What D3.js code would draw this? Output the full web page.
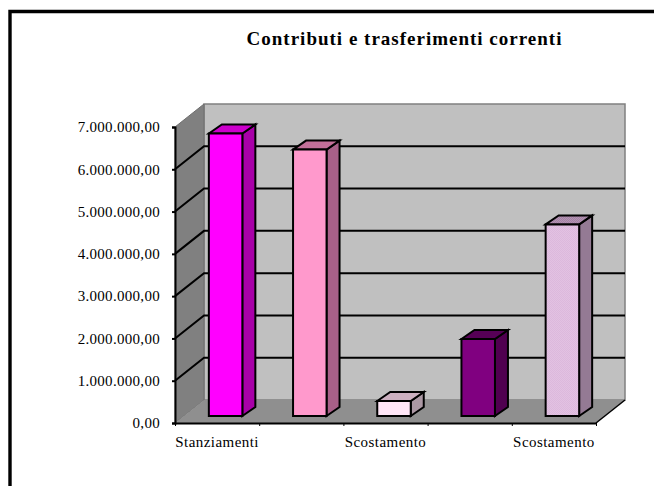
<!DOCTYPE html>
<html>
<head>
<meta charset="utf-8">
<script src="https://cdn.jsdelivr.net/npm/d3@7"></script>
<style>
  html, body { margin: 0; padding: 0; background: #fff; }
  text { font-family: "Liberation Serif", serif; fill: #000; }
</style>
</head>
<body>
<div id="chart"></div>
<script>
var title = "Contributi e trasferimenti correnti";

// only every other category label is shown in the picture
var categories = ["Stanziamenti", "", "Scostamento", "", "Scostamento"];
var values = [6680000, 6300000, 355000, 1820000, 4530000];
var yTicks = [0, 1000000, 2000000, 3000000, 4000000, 5000000, 6000000, 7000000];

var frontColors = ["#ff00ff", "#ff99cc", "#ffe6f7", "#800080", "url(#weave)"];
var topColors = ["#cc00cc", "#c27099", "#ccb0c0", "#560056", "url(#weaveTop)"];
var sideColors = ["#a800a8", "#a86088", "#ac98a4", "#500050", "#947a94"];

var width = 654, height = 486;

// plot box on the front plane + how far the 3d walls go back
var plot = { left: 175, right: 596, top: 127, bottom: 423 };
var depth = { x: 29, y: -23 };
var barInset = { x: 8.5, y: -7 };
var barDepth = { x: 13, y: -9 };

var svg = d3.select("#chart")
    .append("svg")
    .attr("width", width)
    .attr("height", height)
    .style("display", "block");

var defs = svg.append("defs");
function addWeave(id, a, b) {
    var p = defs.append("pattern")
        .attr("id", id)
        .attr("width", 2)
        .attr("height", 2)
        .attr("patternUnits", "userSpaceOnUse");
    p.append("rect").attr("width", 2).attr("height", 2).attr("fill", a);
    p.append("rect").attr("width", 1).attr("height", 1).attr("fill", b);
    p.append("rect").attr("x", 1).attr("y", 1).attr("width", 1).attr("height", 1).attr("fill", b);
}
addWeave("weave", "#e2c2e2", "#dcb8dc");
addWeave("weaveTop", "#b492b4", "#a283a2");

// outer frame, runs off the right and bottom of the page
svg.append("path")
    .attr("d", "M10,486V11.5H654")
    .attr("fill", "none")
    .attr("stroke", "#000")
    .attr("stroke-width", 3.4);

var y = d3.scaleLinear().domain([0, 7000000]).range([plot.bottom, plot.top]);
var x = d3.scaleBand().domain(d3.range(categories.length)).range([plot.left, plot.right]);
var xEdges = d3.scaleLinear().domain([0, categories.length]).range([plot.left, plot.right]);

function poly(points) {
    return "M" + points.map(function(p) { return p.join(","); }).join("L") + "Z";
}

// walls and floor
svg.append("path")
    .attr("d", poly([
        [plot.left + depth.x, plot.top + depth.y],
        [plot.right + depth.x, plot.top + depth.y],
        [plot.right + depth.x, plot.bottom + depth.y],
        [plot.left + depth.x, plot.bottom + depth.y]
    ]))
    .attr("fill", "#c0c0c0")
    .attr("stroke", "#808080")
    .attr("stroke-width", 1.5);

svg.append("path")
    .attr("d", poly([
        [plot.left, plot.top],
        [plot.left + depth.x, plot.top + depth.y],
        [plot.left + depth.x, plot.bottom + depth.y],
        [plot.left, plot.bottom]
    ]))
    .attr("fill", "#808080")
    .attr("stroke", "#6e6e6e")
    .attr("stroke-width", 1);

svg.append("path")
    .attr("d", poly([
        [plot.left, plot.bottom],
        [plot.left + depth.x, plot.bottom + depth.y],
        [plot.right + depth.x, plot.bottom + depth.y],
        [plot.right, plot.bottom]
    ]))
    .attr("fill", "#8f8f8f");

// gridlines across left wall and back wall
svg.selectAll(".grid")
    .data(yTicks.slice(1, -1))
    .enter()
    .append("path")
    .attr("class", "grid")
    .attr("d", function(d) {
        return "M" + plot.left + "," + y(d) +
            "L" + (plot.left + depth.x) + "," + (y(d) + depth.y) +
            "H" + (plot.right + depth.x);
    })
    .attr("fill", "none")
    .attr("stroke", "#000")
    .attr("stroke-width", 2);

// floor edges in black
svg.append("path")
    .attr("d", "M" + plot.right + "," + plot.bottom + "L" + (plot.right + depth.x) + "," + (plot.bottom + depth.y))
    .attr("stroke", "#000")
    .attr("stroke-width", 1.5);

// y axis
var numberFormat = d3.formatLocale({
    decimal: ",",
    thousands: ".",
    grouping: [3],
    currency: ["", ""]
}).format(",.2f");

var yAxis = svg.append("g")
    .attr("transform", "translate(" + plot.left + ",0)")
    .call(d3.axisLeft(y).tickValues(yTicks).tickFormat(numberFormat).tickSize(3).tickPadding(12));
yAxis.select(".domain").attr("stroke-width", 2);
yAxis.selectAll(".tick line").attr("stroke-width", 2);
yAxis.selectAll("text")
    .style("font-family", '"Liberation Serif", serif')
    .style("font-size", "15px")
    .style("letter-spacing", "0.3px");

// x axis: ticks between categories, labels in the band centre
var xAxis = svg.append("g")
    .attr("transform", "translate(0," + plot.bottom + ")")
    .call(d3.axisBottom(xEdges).tickValues(d3.range(categories.length + 1)).tickFormat("").tickSize(3).tickSizeOuter(0));
xAxis.select(".domain").attr("stroke-width", 2);

svg.selectAll(".cat")
    .data(categories)
    .enter()
    .append("text")
    .attr("class", "cat")
    .attr("x", function(d, i) { return x(i) + x.bandwidth() / 2; })
    .attr("y", plot.bottom + 23.5)
    .attr("text-anchor", "middle")
    .style("font-size", "15px")
    .style("letter-spacing", "0.45px")
    .text(function(d) { return d; });

// bars
var barWidth = 33.5;
var bars = svg.selectAll(".bar")
    .data(values)
    .enter()
    .append("g")
    .attr("class", "bar");

function barX(i) {
    return x(i) + (x.bandwidth() - barWidth) / 2 + barInset.x;
}

bars.append("path")
    .attr("d", function(d, i) {
        var l = barX(i), b = y(0) + barInset.y, t = y(d) + barInset.y;
        return poly([[l + barWidth, b], [l + barWidth + barDepth.x, b + barDepth.y],
            [l + barWidth + barDepth.x, t + barDepth.y], [l + barWidth, t]]);
    })
    .attr("fill", function(d, i) { return sideColors[i]; });

bars.append("path")
    .attr("d", function(d, i) {
        var l = barX(i), t = y(d) + barInset.y;
        return poly([[l, t], [l + barDepth.x, t + barDepth.y],
            [l + barWidth + barDepth.x, t + barDepth.y], [l + barWidth, t]]);
    })
    .attr("fill", function(d, i) { return topColors[i]; });

bars.append("path")
    .attr("d", function(d, i) {
        var l = barX(i), b = y(0) + barInset.y, t = y(d) + barInset.y;
        return poly([[l, b], [l, t], [l + barWidth, t], [l + barWidth, b]]);
    })
    .attr("fill", function(d, i) { return frontColors[i]; });

bars.selectAll("path")
    .attr("stroke", "#000")
    .attr("stroke-width", 2)
    .attr("stroke-linejoin", "miter");

svg.append("text")
    .attr("x", 404.5)
    .attr("y", 45)
    .attr("text-anchor", "middle")
    .style("font-size", "19px")
    .style("font-weight", "bold")
    .style("letter-spacing", "1px")
    .text(title);
</script>
</body>
</html>
